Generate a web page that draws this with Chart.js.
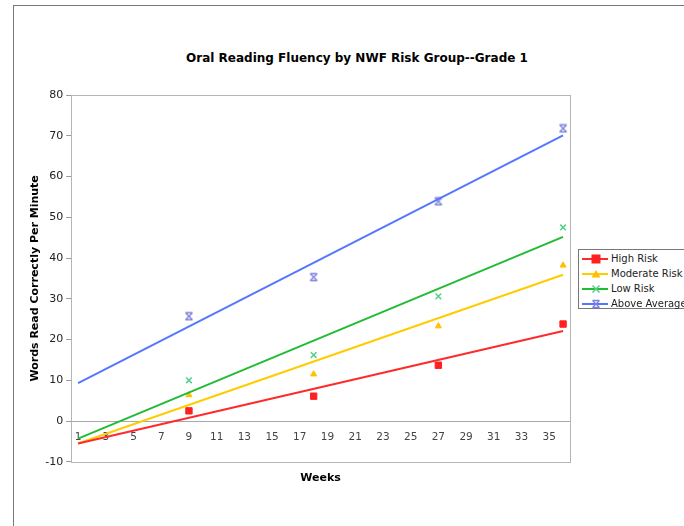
<!DOCTYPE html>
<html>
<head>
<meta charset="utf-8">
<script src="https://cdn.jsdelivr.net/npm/chart.js@4.4.0/dist/chart.umd.min.js"></script>
<style>
  html, body { margin: 0; padding: 0; background: #fff; }
  body { width: 684px; height: 526px; overflow: hidden; position: relative; font-family: "DejaVu Sans", Verdana, sans-serif; }
  #frame { position: absolute; left: 13px; top: 5px; width: 720px; height: 560px; border-left: 1px solid #777; border-top: 1px solid #777; }
  #title { position: absolute; left: 157px; width: 400px; top: 51px; text-align: center; font-weight: bold; font-size: 12px; color: #000; }
  #wrap { position: absolute; left: 14px; top: 6px; width: 670px; height: 520px; }
  #legend { position: absolute; left: 578px; top: 249px; width: 120px; height: 58px; border: 1px solid #777; background: #fff; font-size: 10px; color: #222; }
  #legend .item { height: 15px; line-height: 15px; display: flex; align-items: center; }
  #legend .item:first-child { margin-top: 1px; }
  #legend svg { margin-left: 3px; margin-right: 3px; }
</style>
</head>
<body>
<div id="frame"></div>
<div id="title">Oral Reading Fluency by NWF Risk Group--Grade 1</div>
<div id="wrap"><canvas id="chart"></canvas></div>
<div id="legend"></div>
<script>
  // ---------- DADOS ----------
  const seriesNames = ['High Risk', 'Moderate Risk', 'Low Risk', 'Above Average'];
  const weeks = [9, 18, 27, 36];
  const weekTicks = [1, 3, 5, 7, 9, 11, 13, 15, 17, 19, 21, 23, 25, 27, 29, 31, 33, 35];
  const highRisk = [2.5, 6.1, 13.7, 23.8];
  const moderateRisk = [6.4, 11.5, 23.3, 38.2];
  const lowRisk = [10.0, 16.2, 30.6, 47.5];
  const aboveAverage = [25.7, 35.3, 53.9, 71.8];

  // linhas de tendência (início e fim)
  const trendWeeks = [1, 36];
  const highTrend = [-5.5, 22.1];
  const moderateTrend = [-5.5, 35.9];
  const lowTrend = [-4.3, 45.2];
  const aboveTrend = [9.3, 70.1];

  const lineColors = ['#ff2a2a', '#ffcc00', '#22bb33', '#5577ff'];
  const pointColors = ['#ff2020', '#ffc000', '#55d08a', '#8080dd'];
  const pointSizes = [4.5, 3.5, 4, 4.5];

  // marcador "ampulheta" (X com barras), como o do Excel
  function hourglass(color) {
    const c = document.createElement('canvas');
    c.width = 10; c.height = 10;
    const g = c.getContext('2d');
    g.strokeStyle = color;
    g.lineWidth = 1.4;
    g.beginPath();
    g.moveTo(1.5, 1.5); g.lineTo(8.5, 8.5);
    g.moveTo(8.5, 1.5); g.lineTo(1.5, 8.5);
    g.moveTo(1.5, 1.5); g.lineTo(8.5, 1.5);
    g.moveTo(1.5, 8.5); g.lineTo(8.5, 8.5);
    g.stroke();
    return c;
  }
  const pointStyles = ['rect', 'triangle', 'crossRot', hourglass(pointColors[3])];

  const pointSets = [highRisk, moderateRisk, lowRisk, aboveAverage];
  const trendSets = [highTrend, moderateTrend, lowTrend, aboveTrend];

  const toXY = (xs, ys) => xs.map((x, i) => ({ x, y: ys[i] }));

  const datasets = [];
  trendSets.forEach((t, i) => {
    datasets.push({
      label: seriesNames[i] + ' trend',
      data: toXY(trendWeeks, t),
      borderColor: lineColors[i],
      borderWidth: 2,
      pointRadius: 0,
      showLine: true,
      fill: false
    });
  });
  pointSets.forEach((p, i) => {
    datasets.push({
      label: seriesNames[i],
      data: toXY(weeks, p),
      showLine: false,
      pointStyle: pointStyles[i],
      pointRadius: pointSizes[i],
      pointBackgroundColor: pointColors[i],
      pointBorderColor: pointColors[i],
      pointBorderWidth: (i >= 2) ? 1.5 : 1
    });
  });

  // borda da área do gráfico
  const plotBorder = {
    id: 'plotBorder',
    afterDraw(chart) {
      const { ctx, chartArea: a } = chart;
      ctx.save();
      ctx.strokeStyle = '#b5b5b5';
      ctx.lineWidth = 1;
      ctx.strokeRect(Math.round(a.left) + 0.5, Math.round(a.top) + 0.5, Math.round(a.width), Math.round(a.height));
      ctx.restore();
    }
  };

  new Chart(document.getElementById('chart'), {
    type: 'scatter',
    data: { datasets },
    plugins: [plotBorder],
    options: {
      responsive: true,
      maintainAspectRatio: false,
      animation: false,
      layout: { padding: { left: 5, top: 89, right: 114, bottom: 37 } },
      plugins: { legend: { display: false }, tooltip: { enabled: false } },
      scales: {
        x: {
          type: 'linear',
          position: { y: 0 },
          min: 0.5,
          max: 36.5,
          afterBuildTicks: (s) => { s.ticks = weekTicks.map(v => ({ value: v })); },
          grid: { display: false, drawTicks: false },
          border: { display: true, color: '#a8a8a8', width: 1 },
          ticks: { color: '#444', padding: 10, autoSkip: false, maxRotation: 0, font: { family: 'DejaVu Sans', size: 10.5 } }
        },
        xw: {
          type: 'linear',
          position: 'bottom',
          grid: { display: false, drawTicks: false },
          border: { display: false },
          ticks: { display: false },
          title: { display: true, text: 'Weeks', color: '#000', padding: { top: 10, bottom: 4 }, font: { family: 'DejaVu Sans', size: 11, weight: 'bold' } }
        },
        y: {
          min: -10,
          max: 80,
          ticks: { stepSize: 10, color: '#222', padding: 3, font: { family: 'DejaVu Sans', size: 11 } },
          grid: { display: true, drawOnChartArea: false, tickLength: 5, color: '#999' },
          border: { display: true, color: '#b5b5b5' },
          title: { display: true, text: 'Words Read Correctly Per Minute', color: '#000', padding: { top: 10, bottom: 0 }, font: { family: 'DejaVu Sans', size: 11, weight: 'bold' } }
        }
      }
    }
  });

  // ---------- LEGENDA ----------
  function markerSvg(i) {
    const c = lineColors[i], p = pointColors[i];
    let m = '';
    if (i === 0) m = `<rect x="9.5" y="0.5" width="9" height="9" fill="${p}"/>`;
    if (i === 1) m = `<polygon points="14,1 18.5,8.5 9.5,8.5" fill="${p}"/>`;
    if (i === 2) m = `<path d="M10.5 1.5 L17.5 8.5 M17.5 1.5 L10.5 8.5" stroke="${p}" stroke-width="1.5"/>`;
    if (i === 3) m = `<path d="M10.5 1.5 L17.5 8.5 M17.5 1.5 L10.5 8.5 M10.5 1.5 L17.5 1.5 M10.5 8.5 L17.5 8.5" stroke="${p}" stroke-width="1.3"/>`;
    return `<svg width="26" height="10"><line x1="0" y1="5" x2="26" y2="5" stroke="${c}" stroke-width="2"/>${m}</svg>`;
  }
  document.getElementById('legend').innerHTML = seriesNames.map((n, i) =>
    `<div class="item">${markerSvg(i)}<span>${n}</span></div>`
  ).join('');
</script>
</body>
</html>
